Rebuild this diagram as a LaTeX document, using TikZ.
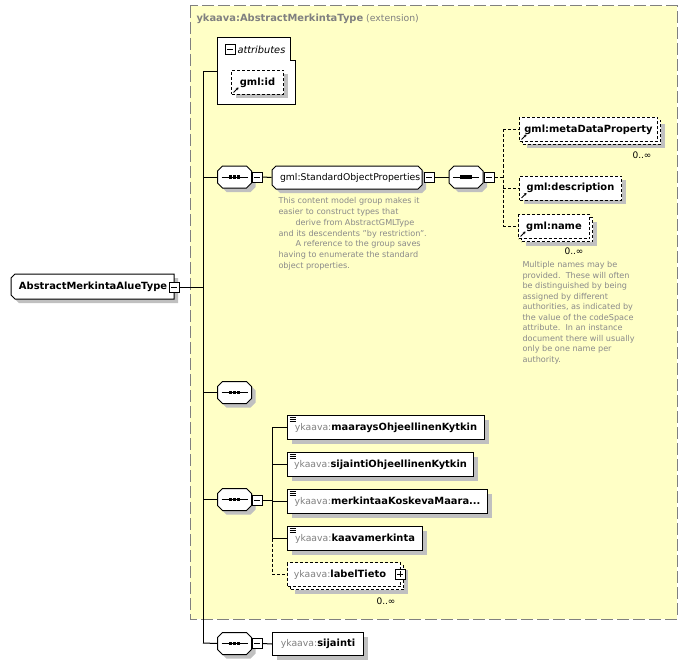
\documentclass[tikz,border=0pt]{standalone}
\usepackage{fontspec}
\setmainfont{DejaVu Sans}
\usetikzlibrary{shapes.misc,shadows,arrows.meta}
\definecolor{extyellow}{RGB}{255,255,198}
\definecolor{extgray}{RGB}{128,128,128}
\definecolor{notegray}{RGB}{138,138,138}
\definecolor{shadowgray}{RGB}{192,192,192}
\tikzstyle{boxshadow} = [drop shadow={shadow xshift=4pt, shadow yshift=-4pt, fill=shadowgray, opacity=1}]
\tikzstyle{dashline} = [dash pattern=on 3pt off 2pt]
\tikzstyle{seq} = [chamfered rectangle, chamfered rectangle xsep=2.5pt, chamfered rectangle ysep=2.5pt, draw, fill=white, text width=29pt, text height=8.5pt, text depth=8.5pt, inner sep=0pt, boxshadow,
  path picture={\draw ([xshift=4pt]path picture bounding box.west) -- ([xshift=-4pt]path picture bounding box.east);
    \foreach \d in {-4,0,4} \fill[black] ([xshift=\d pt]path picture bounding box.center) +(-1.6pt,-1.6pt) rectangle +(1.6pt,1.6pt);}]
\tikzstyle{tog} = [draw, fill=white, minimum size=10pt, inner sep=0pt,
  path picture={\draw ([xshift=2pt]path picture bounding box.west) -- ([xshift=-2pt]path picture bounding box.east);}]
\tikzstyle{togplus} = [draw, fill=white, minimum size=10pt, inner sep=0pt,
  path picture={\draw ([xshift=2pt]path picture bounding box.west) -- ([xshift=-2pt]path picture bounding box.east);
    \draw ([yshift=2pt]path picture bounding box.south) -- ([yshift=-2pt]path picture bounding box.north);}]
\tikzstyle{elem} = [draw, fill=white, anchor=north west, minimum height=24pt, inner xsep=4pt, boxshadow]
\tikzstyle{multielem} = [draw, fill=white, anchor=north west, minimum height=24pt, inner xsep=4pt, dashline,
  drop shadow={shadow xshift=7pt, shadow yshift=-7pt, fill=shadowgray, opacity=1},
  copy shadow={shadow xshift=3pt, shadow yshift=-3pt, draw, fill=white, dashline}]
\tikzstyle{refmark} = [path picture={\draw[black, solid, line width=0.8pt, -{Stealth[length=2.5pt,width=3pt]}] ([shift={(2pt,2pt)}]path picture bounding box.south west) -- ++(5pt,5pt);}]
\tikzstyle{simplemark} = [path picture={\foreach \k in {2,4,6} \draw[black, solid, line width=0.7pt] ([shift={(2pt,-\k pt)}]path picture bounding box.north west) -- ++(6pt,0pt);}]
\tikzstyle{note} = [anchor=north west, align=left, inner sep=0pt, text=notegray, font=\fontsize{8.1}{10.8}\selectfont]
\tikzstyle{card} = [font=\fontsize{9}{10}\selectfont, inner sep=0pt]
\newcommand{\tb}[1]{{\fontsize{9.9}{11}\selectfont\bfseries #1}}
\newcommand{\yk}[1]{{\color{extgray}ykaava:}\tb{#1}}

\begin{document}
\begin{tikzpicture}[x=1pt, y=-1pt, line width=1pt, font=\fontsize{9.3}{11}\selectfont]
\useasboundingbox (0,0) rectangle (688,666);
% extension area
\draw [extgray, fill=extyellow, dash pattern=on 12pt off 4pt] (190,6) rectangle (677,619);
\node (ext) [anchor=west, text=extgray, inner sep=0pt] at (196,19) {\tb{ykaava:AbstractMerkintaType} (extension)};

% attributes
\draw [fill=white] (217,38) -| (290,61) -| (295,105) -| cycle;
\node (attrtog) [tog] at (230,50) {};
\node (attrlabel) [anchor=west, font=\fontsize{9.8}{11}\selectfont\itshape, inner sep=0pt] at (237,50) {attributes};
\node (gmlid) [elem, dashline, refmark, minimum width=52pt] at (231,70) {\tb{gml:id}};
\coordinate (attrin) at (217,72);

% root
\node (root) [chamfered rectangle, chamfered rectangle corners={north west,south west}, chamfered rectangle xsep=2pt, chamfered rectangle ysep=2pt, draw, fill=white, text width=147pt, align=center, text height=7pt, text depth=2pt, inner xsep=6pt, inner ysep=6pt, boxshadow] at (92.5,286.5) {\tb{AbstractMerkintaAlueType}};
\node (roottog) [tog] at (174,287) {};
\coordinate (trunk) at (203,72);
\coordinate (trunkend) at (203,643);

% standard object properties
\node (seqa) [seq] at (234.5,177) {};
\node (seqatog) [tog] at (257,177) {};
\node (sop) [chamfered rectangle, chamfered rectangle xsep=2pt, chamfered rectangle ysep=2pt, draw, fill=white, text width=134pt, align=center, text height=7pt, text depth=2pt, inner xsep=6pt, inner ysep=5pt, boxshadow] at (347,177.5) {gml:StandardObjectProperties};
\node (soptog) [tog] at (429,177) {};
\node (sopnote) [note] at (278,197) {This content model group makes it\\easier to construct types that\\\hspace*{17pt}derive from AbstractGMLType\\and its descendents "by restriction".\\\hspace*{17pt}A reference to the group saves\\having to enumerate the standard\\object properties.};
\node (seqb) [seq] at (466,177) {};
\node (seqbtog) [tog] at (489,177) {};
\coordinate (forkb) at (503,177);
\node (meta) [multielem, refmark, minimum width=138pt] at (519,117) {\tb{gml:metaDataProperty}};
\node (metacard) [card] at (642,155) {0..∞};
\node (desc) [elem, dashline, refmark, minimum width=102pt] at (519,175.5) {\tb{gml:description}};
\node (name) [multielem, refmark, minimum width=71pt] at (518,214) {\tb{gml:name}};
\node (namecard) [card] at (574,251) {0..∞};
\node (namenote) [note, font=\fontsize{8.1}{10.5}\selectfont] at (522,261) {Multiple names may be\\provided.\ \ These will often\\be distinguished by being\\assigned by different\\authorities, as indicated by\\the value of the codeSpace\\attribute.\ \ In an instance\\document there will usually\\only be one name per\\authority.};

% empty sequence
\node (seqc) [seq] at (234.5,392.5) {};

% plan elements
\node (seqd) [seq] at (234.5,499.5) {};
\node (seqdtog) [tog] at (257,500) {};
\coordinate (forkd) at (272,500);
\node (maarays) [elem, simplemark, minimum width=197pt] at (287,415) {\yk{maaraysOhjeellinenKytkin}};
\node (sijaintiohj) [elem, simplemark, minimum width=186pt] at (287,452) {\yk{sijaintiOhjeellinenKytkin}};
\node (koskeva) [elem, simplemark, minimum width=200pt] at (287,489) {\yk{merkintaaKoskevaMaara...}};
\node (kaavam) [elem, simplemark, minimum width=135pt] at (287,526) {\yk{kaavamerkinta}};
\node (label) [multielem, minimum width=113pt] at (287,562) {\yk{labelTieto}\hspace*{8pt}};
\node (labeltog) [togplus] at (400,574) {};
\node (labelcard) [card] at (386,601) {0..∞};

% location
\node (seqe) [seq] at (234.5,643.5) {};
\node (seqetog) [tog] at (257,643.5) {};
\node (sijainti) [elem, minimum width=91pt, minimum height=23pt] at (272,632) {\yk{sijainti}};

% connectors
\draw (trunk) -- (trunkend);
\draw (trunk) -- (attrin);
\draw (roottog.east) -- (roottog.east -| trunk);
\draw (trunk |- seqa) -- (seqa.west);
\draw (seqatog.east) -- (sop.west);
\draw (soptog.east) -- (seqb.west);
\draw [dashline] (seqbtog.east) -- (forkb);
\draw [dashline] (forkb |- meta.west) -- (forkb |- name.west);
\draw [dashline] (forkb |- meta.west) -- (meta.west);
\draw [dashline] (forkb |- desc.west) -- (desc.west);
\draw [dashline] (forkb |- name.west) -- (name.west);
\draw (trunk |- seqc) -- (seqc.west);
\draw (trunk |- seqd) -- (seqd.west);
\draw (seqdtog.east) -- (forkd);
\draw (forkd |- maarays.west) -- (forkd |- kaavam.west);
\draw [dashline] (forkd |- kaavam.west) -- (forkd |- label.west);
\draw (forkd |- maarays.west) -- (maarays.west);
\draw (forkd |- sijaintiohj.west) -- (sijaintiohj.west);
\draw (forkd |- koskeva.west) -- (koskeva.west);
\draw (forkd |- kaavam.west) -- (kaavam.west);
\draw [dashline] (forkd |- label.west) -- (label.west);
\draw (trunkend) -- (seqe.west);
\draw (seqetog.east) -- (sijainti.west);
\end{tikzpicture}
\end{document}
